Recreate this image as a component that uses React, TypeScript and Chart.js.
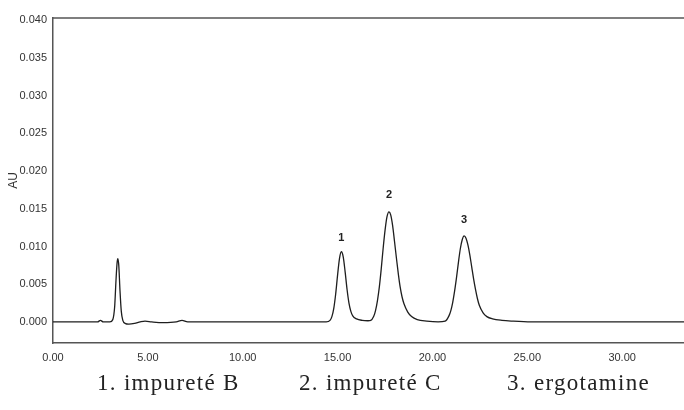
import React, { useEffect, useRef } from "react";
import { Chart, registerables } from "chart.js";

Chart.register(...registerables);

// retention time (min)
const times = [
  0.0, 1.0, 2.0, 2.35, 2.5, 2.65, 3.0, 3.15, 3.25, 3.32, 3.38, 3.42, 3.47, 3.53, 3.6, 3.68,
  3.8, 4.0, 4.3, 4.6, 4.85, 5.2, 5.8, 6.5, 6.8, 7.1, 8.0, 10.0, 12.0, 14.0, 14.4,
  14.6, 14.7, 14.8, 14.9, 15.0, 15.1, 15.2, 15.3, 15.4, 15.5, 15.6, 15.7, 15.8, 16.0, 16.3,
  16.6, 16.75, 16.9, 17.0, 17.1, 17.2, 17.3, 17.4, 17.5, 17.6, 17.71, 17.8, 17.9, 18.0, 18.1,
  18.2, 18.3, 18.4, 18.5, 18.7, 18.9, 19.2, 19.7, 20.3, 20.67, 20.87, 20.97, 21.07, 21.17,
  21.27, 21.37, 21.47, 21.57, 21.67, 21.77, 21.87, 21.97, 22.07, 22.17, 22.27, 22.37, 22.47,
  22.67, 22.87, 23.17, 23.67, 24.2, 25.2, 28.0, 31.0, 33.3,
];

// absorbance (AU)
const absorbance = [
  0.0, 0.0, 0.0, 0.0, 0.0002, 0.0, 0.0, 0.0003, 0.002, 0.0055, 0.0079, 0.0084, 0.0074, 0.0042, 0.0014, 0.0002,
  -0.0002, -0.0003, -0.0002, 0.0, 0.0001, 0.0, -0.0001, 0.0, 0.0002, 0.0, 0.0, 0.0, 0.0, 0.0, 0.0,
  0.0002, 0.0007, 0.0018, 0.0037, 0.0062, 0.0084, 0.0093, 0.0086, 0.0066, 0.0043, 0.0025, 0.0014, 0.0008, 0.0004, 0.0002,
  0.00015, 0.0002, 0.0007, 0.0015, 0.0028, 0.0046, 0.007, 0.0097, 0.0121, 0.0139, 0.0146, 0.0142, 0.0128, 0.0107, 0.0085,
  0.0064, 0.0046, 0.0033, 0.0024, 0.0013, 0.0007, 0.0003, 0.0001, 0.0, 0.0001, 0.0008, 0.0015, 0.0026, 0.0041,
  0.0059, 0.0079, 0.0097, 0.0109, 0.0114, 0.0111, 0.0102, 0.0089, 0.0073, 0.0057, 0.0043, 0.0031, 0.0022,
  0.0012, 0.0007, 0.0004, 0.0002, 0.0001, 0.0, 0.0, 0.0, 0.0,
];

const xTicks = [0, 5, 10, 15, 20, 25, 30];
const yTicks = [0, 0.005, 0.01, 0.015, 0.02, 0.025, 0.03, 0.035, 0.04];

const peakLabels = ["1", "2", "3"];
const peakLabelTimes = [15.2, 17.71, 21.67];
const peakLabelValues = [0.0111, 0.0168, 0.0135];

const legendItems = ["1. impureté B", "2. impureté C", "3. ergotamine"];
const legendLeft = [97, 299, 507];

export default function App() {
  const ref = useRef<HTMLCanvasElement | null>(null);

  useEffect(() => {
    document.body.style.margin = "0";
    const canvas = ref.current;
    if (!canvas) return;

    const peakLabelPlugin = {
      id: "peakLabels",
      afterDatasetsDraw(chart: any) {
        const { ctx, scales, chartArea } = chart;
        ctx.save();
        // top frame line
        ctx.strokeStyle = "#555";
        ctx.lineWidth = 1.5;
        ctx.beginPath();
        ctx.moveTo(chartArea.left, chartArea.top);
        ctx.lineTo(chartArea.right, chartArea.top);
        ctx.stroke();
        ctx.fillStyle = "#222";
        ctx.font = "bold 11px 'Liberation Sans', Arial, sans-serif";
        ctx.textAlign = "center";
        ctx.textBaseline = "middle";
        peakLabels.forEach((t, i) => {
          ctx.fillText(t, scales.x.getPixelForValue(peakLabelTimes[i]), scales.y.getPixelForValue(peakLabelValues[i]));
        });
        ctx.restore();
      },
    };

    const tickFont = { family: "'Liberation Sans', Arial, sans-serif", size: 11 };

    const chart = new Chart(canvas, {
      type: "line",
      data: {
        datasets: [
          {
            data: times.map((t, i) => ({ x: t, y: absorbance[i] })),
            borderColor: "#1e1e1e",
            borderWidth: 1.3,
            pointRadius: 0,
            fill: false,
            cubicInterpolationMode: "monotone",
          },
        ],
      },
      options: {
        animation: false,
        responsive: false,
        layout: { padding: { top: 18, right: 0, bottom: 43, left: 0 } },
        plugins: { legend: { display: false }, tooltip: { enabled: false } },
        scales: {
          x: {
            type: "linear",
            min: 0,
            max: 33.26,
            grid: { display: false, drawTicks: false },
            border: { display: true, color: "#555", width: 1.5 },
            afterBuildTicks: (s: any) => {
              s.ticks = xTicks.map((v) => ({ value: v }));
            },
            afterFit: (s: any) => {
              s.height = 24;
            },
            ticks: {
              autoSkip: false,
              maxRotation: 0,
              padding: 8,
              color: "#333",
              font: tickFont,
              callback: (v: any) => Number(v).toFixed(2),
            },
          },
          y: {
            type: "linear",
            min: -0.0028,
            max: 0.0403,
            grid: { display: false, drawTicks: false },
            border: { display: true, color: "#555", width: 1.5 },
            afterBuildTicks: (s: any) => {
              s.ticks = yTicks.map((v) => ({ value: v }));
            },
            afterFit: (s: any) => {
              s.width = 53;
            },
            title: {
              display: true,
              text: "AU",
              color: "#333",
              font: { family: "'Liberation Sans', Arial, sans-serif", size: 12 },
              padding: { top: 6, bottom: 0 },
            },
            ticks: {
              autoSkip: false,
              padding: 6,
              color: "#333",
              font: tickFont,
              callback: (v: any) => Number(v).toFixed(3),
            },
          },
        },
      },
      plugins: [peakLabelPlugin],
    });

    return () => chart.destroy();
  }, []);

  return (
    <div style={{ position: "relative", width: 684, height: 410, background: "#fff" }}>
      <canvas ref={ref} width={684} height={410} style={{ display: "block", width: 684, height: 410 }} />
      {legendItems.map((t, i) => (
        <span
          key={t}
          style={{
            position: "absolute",
            left: legendLeft[i],
            top: 370,
            fontFamily: "'Liberation Serif', 'Times New Roman', serif",
            fontSize: 23,
            letterSpacing: "1.3px",
            lineHeight: "26px",
            color: "#222",
            whiteSpace: "nowrap",
          }}
        >
          {t}
        </span>
      ))}
    </div>
  );
}
